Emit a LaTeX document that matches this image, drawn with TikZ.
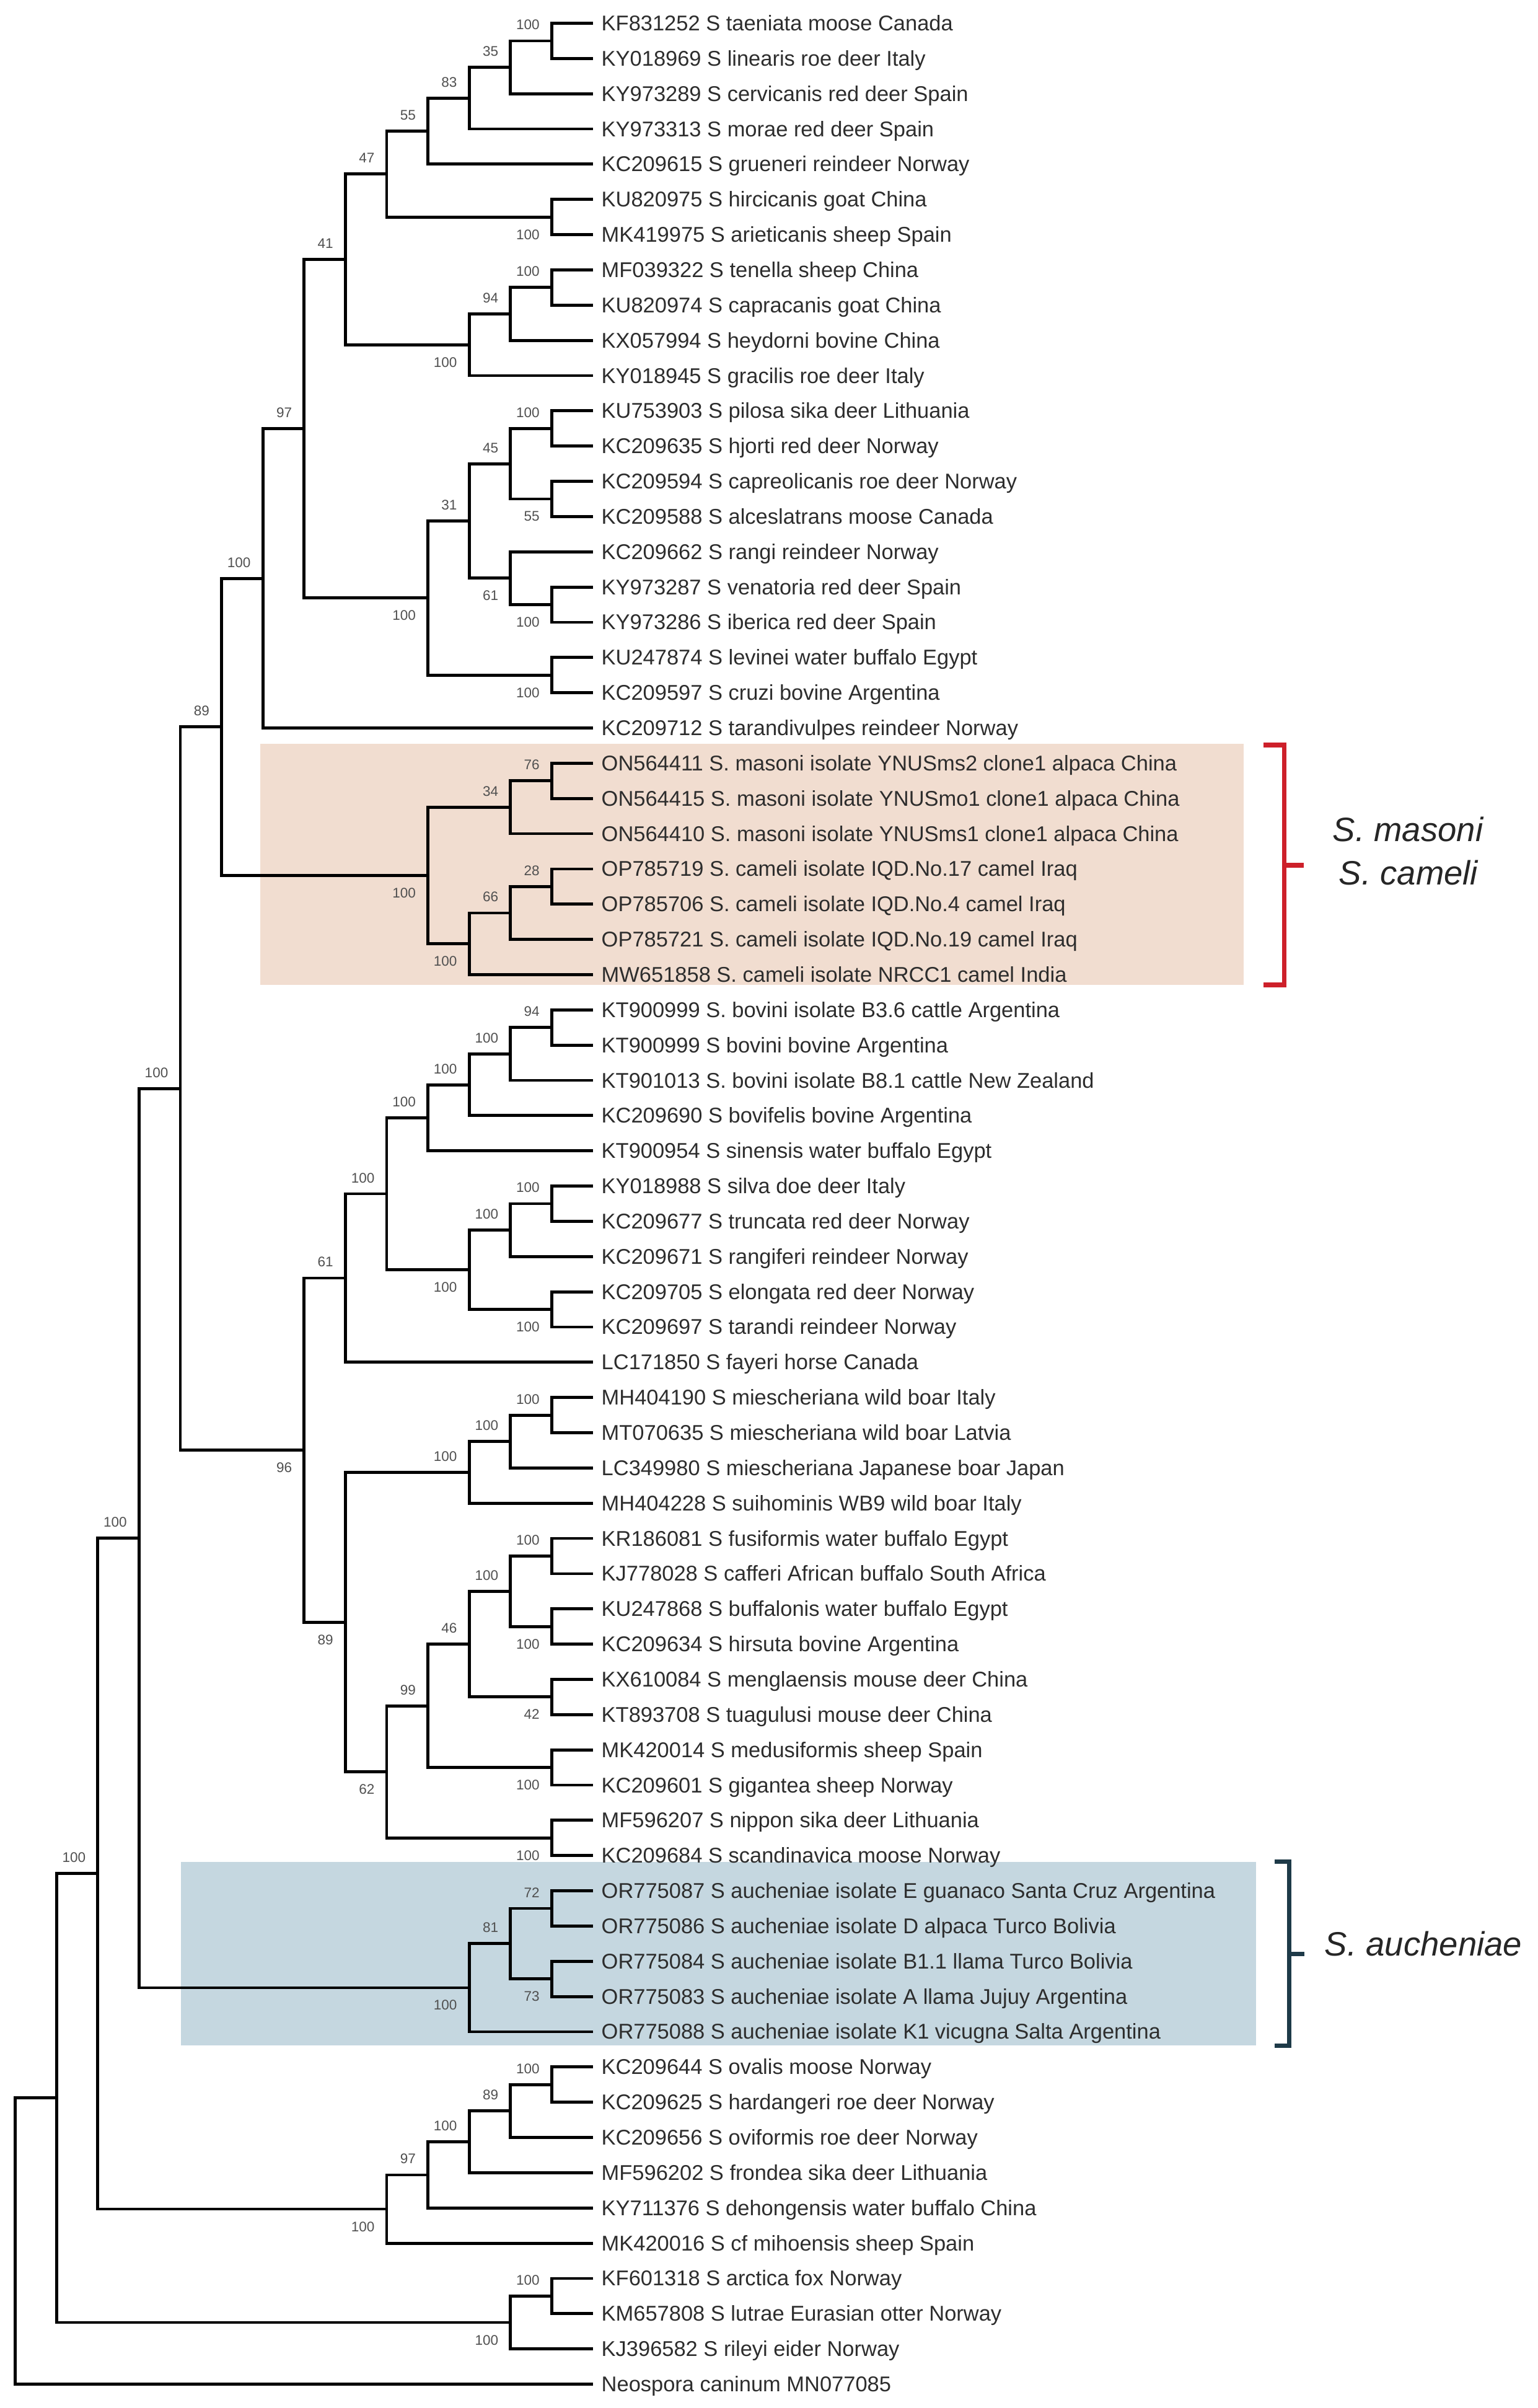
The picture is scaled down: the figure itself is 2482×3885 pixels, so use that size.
\documentclass[tikz,border=0pt]{standalone}
\usepackage{fontspec}
\setmainfont{Liberation Sans}
\usetikzlibrary{calc}
\definecolor{peach}{RGB}{241,221,208}
\definecolor{bluegray}{RGB}{197,215,224}
\definecolor{redbr}{RGB}{205,32,42}
\definecolor{bluebr}{RGB}{30,58,72}
\definecolor{txt}{RGB}{45,45,45}
\definecolor{bstxt}{RGB}{80,80,80}
\newcommand\mkleaf[2]{%
  \coordinate (t#1) at (957,{37.5+(#1-1)*56.85});
  \node[leaf] (lab#1) at (970,{37.5+(#1-1)*56.85+12}) {#2};
}
\newcommand\mkjoin[4]{%
  \coordinate (#1-m) at ($(#3)!0.5!(#4)$);
  \coordinate (#1) at (L#2 |- #1-m);
  \draw[br] (#3) -| (#1) |- (#4);
}
\newcommand\mkclade[6]{%
  \mkjoin{#1}{#2}{#3}{#4}
  \node[bs] (#1-bs) at ($(#1)+(-19,#6)$) {#5};
}
\begin{document}
\begin{tikzpicture}[x=0.01cm,y=-0.01cm,
  br/.style={line width=1.37pt, line join=miter, draw=black},
  leaf/.style={anchor=base west, inner sep=0pt, text=txt, font=\fontsize{9.8}{11}\selectfont},
  bs/.style={anchor=base east, inner sep=0pt, text=bstxt, font=\fontsize{6.4}{7}\selectfont},
  clade/.style={anchor=base, inner sep=0pt, text=black!85, font=\fontsize{15.5}{18}\selectfont\itshape},
  brk/.style={line width=2pt, line join=miter}]
\fill[white] (0,0) rectangle (2482,3885);
\useasboundingbox (0,0) rectangle (2482,3885);
% highlight boxes
\fill[peach] (420,1200) rectangle (2007,1589);
\fill[bluegray] (292,3004) rectangle (2027,3300);
% levels
\foreach \k in {1,...,14} {\coordinate (L\k) at ({957-66.6*\k},0);}
% leaves
\mkleaf{1}{KF831252 S taeniata moose Canada}
\mkleaf{2}{KY018969 S linearis roe deer Italy}
\mkleaf{3}{KY973289 S cervicanis red deer Spain}
\mkleaf{4}{KY973313 S morae red deer Spain}
\mkleaf{5}{KC209615 S grueneri reindeer Norway}
\mkleaf{6}{KU820975 S hircicanis goat China}
\mkleaf{7}{MK419975 S arieticanis sheep Spain}
\mkleaf{8}{MF039322 S tenella sheep China}
\mkleaf{9}{KU820974 S capracanis goat China}
\mkleaf{10}{KX057994 S heydorni bovine China}
\mkleaf{11}{KY018945 S gracilis roe deer Italy}
\mkleaf{12}{KU753903 S pilosa sika deer Lithuania}
\mkleaf{13}{KC209635 S hjorti red deer Norway}
\mkleaf{14}{KC209594 S capreolicanis roe deer Norway}
\mkleaf{15}{KC209588 S alceslatrans moose Canada}
\mkleaf{16}{KC209662 S rangi reindeer Norway}
\mkleaf{17}{KY973287 S venatoria red deer Spain}
\mkleaf{18}{KY973286 S iberica red deer Spain}
\mkleaf{19}{KU247874 S levinei water buffalo Egypt}
\mkleaf{20}{KC209597 S cruzi bovine Argentina}
\mkleaf{21}{KC209712 S tarandivulpes reindeer Norway}
\mkleaf{22}{ON564411 S. masoni isolate YNUSms2 clone1 alpaca China}
\mkleaf{23}{ON564415 S. masoni isolate YNUSmo1 clone1 alpaca China}
\mkleaf{24}{ON564410 S. masoni isolate YNUSms1 clone1 alpaca China}
\mkleaf{25}{OP785719 S. cameli isolate IQD.No.17 camel Iraq}
\mkleaf{26}{OP785706 S. cameli isolate IQD.No.4 camel Iraq}
\mkleaf{27}{OP785721 S. cameli isolate IQD.No.19 camel Iraq}
\mkleaf{28}{MW651858 S. cameli isolate NRCC1 camel India}
\mkleaf{29}{KT900999 S. bovini isolate B3.6 cattle Argentina}
\mkleaf{30}{KT900999 S bovini bovine Argentina}
\mkleaf{31}{KT901013 S. bovini isolate B8.1 cattle New Zealand}
\mkleaf{32}{KC209690 S bovifelis bovine Argentina}
\mkleaf{33}{KT900954 S sinensis water buffalo Egypt}
\mkleaf{34}{KY018988 S silva doe deer Italy}
\mkleaf{35}{KC209677 S truncata red deer Norway}
\mkleaf{36}{KC209671 S rangiferi reindeer Norway}
\mkleaf{37}{KC209705 S elongata red deer Norway}
\mkleaf{38}{KC209697 S tarandi reindeer Norway}
\mkleaf{39}{LC171850 S fayeri horse Canada}
\mkleaf{40}{MH404190 S miescheriana wild boar Italy}
\mkleaf{41}{MT070635 S miescheriana wild boar Latvia}
\mkleaf{42}{LC349980 S miescheriana Japanese boar Japan}
\mkleaf{43}{MH404228 S suihominis WB9 wild boar Italy}
\mkleaf{44}{KR186081 S fusiformis water buffalo Egypt}
\mkleaf{45}{KJ778028 S cafferi African buffalo South Africa}
\mkleaf{46}{KU247868 S buffalonis water buffalo Egypt}
\mkleaf{47}{KC209634 S hirsuta bovine Argentina}
\mkleaf{48}{KX610084 S menglaensis mouse deer China}
\mkleaf{49}{KT893708 S tuagulusi mouse deer China}
\mkleaf{50}{MK420014 S medusiformis sheep Spain}
\mkleaf{51}{KC209601 S gigantea sheep Norway}
\mkleaf{52}{MF596207 S nippon sika deer Lithuania}
\mkleaf{53}{KC209684 S scandinavica moose Norway}
\mkleaf{54}{OR775087 S aucheniae isolate E guanaco Santa Cruz Argentina}
\mkleaf{55}{OR775086 S aucheniae isolate D alpaca Turco Bolivia}
\mkleaf{56}{OR775084 S aucheniae isolate B1.1 llama Turco Bolivia}
\mkleaf{57}{OR775083 S aucheniae isolate A llama Jujuy Argentina}
\mkleaf{58}{OR775088 S aucheniae isolate K1 vicugna Salta Argentina}
\mkleaf{59}{KC209644 S ovalis moose Norway}
\mkleaf{60}{KC209625 S hardangeri roe deer Norway}
\mkleaf{61}{KC209656 S oviformis roe deer Norway}
\mkleaf{62}{MF596202 S frondea sika deer Lithuania}
\mkleaf{63}{KY711376 S dehongensis water buffalo China}
\mkleaf{64}{MK420016 S cf mihoensis sheep Spain}
\mkleaf{65}{KF601318 S arctica fox Norway}
\mkleaf{66}{KM657808 S lutrae Eurasian otter Norway}
\mkleaf{67}{KJ396582 S rileyi eider Norway}
\mkleaf{68}{Neospora caninum MN077085}
% clades (above: -18, below: 36)
\mkclade{a1}{1}{t1}{t2}{100}{-18}
\mkclade{a2}{2}{a1}{t3}{35}{-18}
\mkclade{a3}{3}{a2}{t4}{83}{-18}
\mkclade{a4}{4}{a3}{t5}{55}{-18}
\mkclade{a5}{1}{t6}{t7}{100}{36}
\mkclade{a6}{5}{a4}{a5}{47}{-18}
\mkclade{a7}{1}{t8}{t9}{100}{-18}
\mkclade{a8}{2}{a7}{t10}{94}{-18}
\mkclade{a9}{3}{a8}{t11}{100}{36}
\mkclade{a10}{6}{a6}{a9}{41}{-18}
\mkclade{b1}{1}{t12}{t13}{100}{-18}
\mkclade{b2}{1}{t14}{t15}{55}{36}
\mkclade{b3}{2}{b1}{b2}{45}{-18}
\mkclade{b4}{1}{t17}{t18}{100}{36}
\mkclade{b5}{2}{t16}{b4}{61}{36}
\mkclade{b6}{3}{b3}{b5}{31}{-18}
\mkclade{b7}{1}{t19}{t20}{100}{36}
\mkclade{b8}{4}{b6}{b7}{100}{36}
\mkclade{c1}{7}{a10}{b8}{97}{-18}
\mkclade{c2}{8}{c1}{t21}{100}{-18}
\mkclade{d1}{1}{t22}{t23}{76}{-18}
\mkclade{d2}{2}{d1}{t24}{34}{-18}
\mkclade{d3}{1}{t25}{t26}{28}{-18}
\mkclade{d4}{2}{d3}{t27}{66}{-18}
\mkclade{d5}{3}{d4}{t28}{100}{36}
\mkclade{d6}{4}{d2}{d5}{100}{36}
\mkclade{d7}{9}{c2}{d6}{89}{-18}
\mkclade{e1}{1}{t29}{t30}{94}{-18}
\mkclade{e2}{2}{e1}{t31}{100}{-18}
\mkclade{e3}{3}{e2}{t32}{100}{-18}
\mkclade{e4}{4}{e3}{t33}{100}{-18}
\mkclade{e5}{1}{t34}{t35}{100}{-18}
\mkclade{e6}{2}{e5}{t36}{100}{-18}
\mkclade{e7}{1}{t37}{t38}{100}{36}
\mkclade{e8}{3}{e6}{e7}{100}{36}
\mkclade{e9}{5}{e4}{e8}{100}{-18}
\mkclade{e10}{6}{e9}{t39}{61}{-18}
\mkclade{f1}{1}{t40}{t41}{100}{-18}
\mkclade{f2}{2}{f1}{t42}{100}{-18}
\mkclade{f3}{3}{f2}{t43}{100}{-18}
\mkclade{g1}{1}{t44}{t45}{100}{-18}
\mkclade{g2}{1}{t46}{t47}{100}{36}
\mkclade{g3}{2}{g1}{g2}{100}{-18}
\mkclade{g4}{1}{t48}{t49}{42}{36}
\mkclade{g5}{3}{g3}{g4}{46}{-18}
\mkclade{g6}{1}{t50}{t51}{100}{36}
\mkclade{g7}{4}{g5}{g6}{99}{-18}
\mkclade{g8}{1}{t52}{t53}{100}{36}
\mkclade{g9}{5}{g7}{g8}{62}{36}
\mkclade{g10}{6}{f3}{g9}{89}{36}
\mkclade{h1}{7}{e10}{g10}{96}{36}
\mkclade{h2}{10}{d7}{h1}{100}{-18}
\mkclade{i1}{1}{t54}{t55}{72}{-18}
\mkclade{i2}{1}{t56}{t57}{73}{36}
\mkclade{i3}{2}{i1}{i2}{81}{-18}
\mkclade{i4}{3}{i3}{t58}{100}{36}
\mkclade{h3}{11}{h2}{i4}{100}{-18}
\mkclade{j1}{1}{t59}{t60}{100}{-18}
\mkclade{j2}{2}{j1}{t61}{89}{-18}
\mkclade{j3}{3}{j2}{t62}{100}{-18}
\mkclade{j4}{4}{j3}{t63}{97}{-18}
\mkclade{j5}{5}{j4}{t64}{100}{36}
\mkclade{h4}{12}{h3}{j5}{100}{-18}
\mkclade{k1}{1}{t65}{t66}{100}{-18}
\mkclade{k2}{2}{k1}{t67}{100}{36}
\mkjoin{h5}{13}{h4}{k2}
\mkjoin{root}{14}{h5}{t68}
% brackets and clade names
\draw[brk, redbr] (2039,1202) -- (2072,1202) -- (2072,1589) -- (2039,1589);
\draw[brk, redbr] (2072,1396) -- (2104,1396);
\draw[brk, bluebr] (2057,3003) -- (2080,3003) -- (2080,3300) -- (2057,3300);
\draw[brk, bluebr] (2080,3152) -- (2105,3152);
\node[clade] (sm) at (2272,1357) {S. masoni};
\node[clade] (sc) at (2273,1427) {S. cameli};
\node[clade] (sa) at (2297,3155) {S. aucheniae};
\end{tikzpicture}
\end{document}
